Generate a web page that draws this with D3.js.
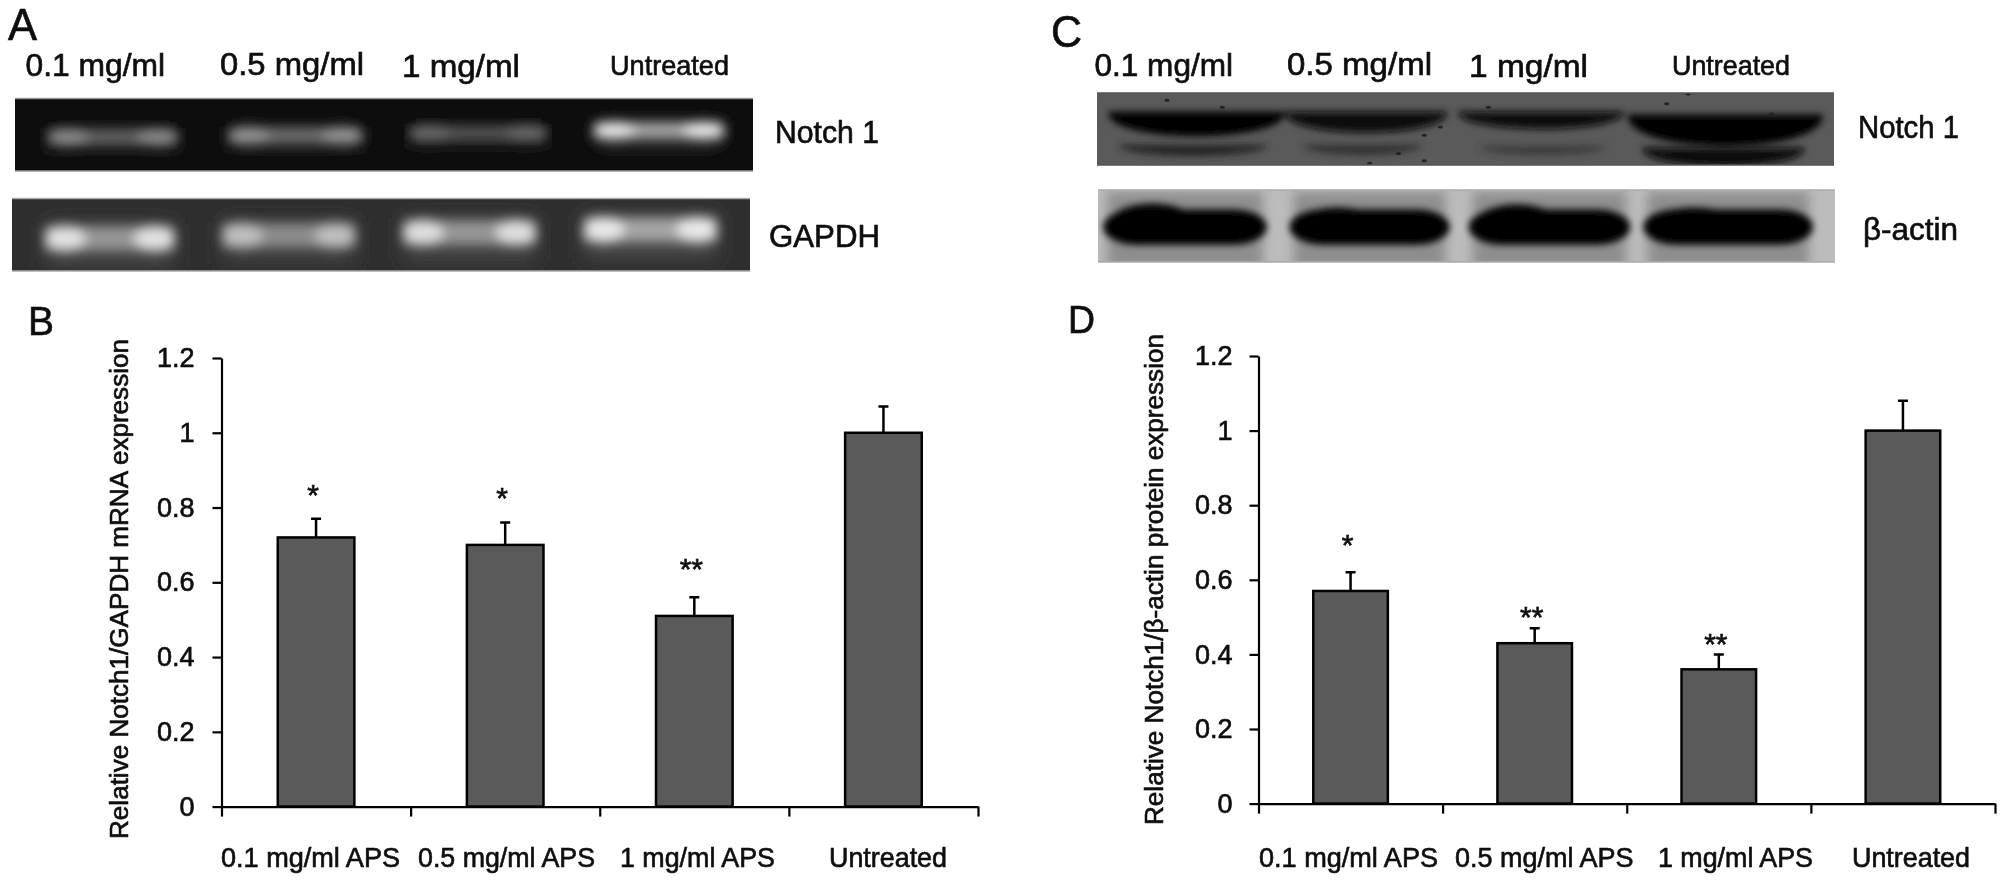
<!DOCTYPE html>
<html>
<head>
<meta charset="utf-8">
<script src="https://cdn.jsdelivr.net/npm/d3@7"></script>
<style>
html, body { margin: 0; padding: 0; background: #fff; overflow: hidden; }
text { font-family: "Liberation Sans", Arial, sans-serif; fill: #0c0c0c; stroke: #0c0c0c; stroke-width: 0.65; }
</style>
</head>
<body>
<div id="content-wrapper"></div>
<script>
/***********************************************************************/
//Data
/***********************************************************************/
const categories = ['0.1 mg/ml APS', '0.5 mg/ml APS', '1 mg/ml APS', 'Untreated']
const yTickValues = [0, 0.2, 0.4, 0.6, 0.8, 1, 1.2]

const mrnaValues = [0.72, 0.70, 0.51, 1.0]
const mrnaErrors = [0.05, 0.06, 0.05, 0.07]
const mrnaStars = ['*', '*', '**', '']
const mrnaStarLevels = [0.847, 0.84, 0.649, 0]

const proteinValues = [0.57, 0.43, 0.36, 1.0]
const proteinErrors = [0.05, 0.04, 0.04, 0.08]
const proteinStars = ['*', '**', '**', '']
const proteinStarLevels = [0.707, 0.514, 0.44, 0]

const notchARim = [140, 150, 105, 235]
const notchACore = [100, 112, 82, 170]
const gapdhRim = [225, 190, 222, 232]
const gapdhCore = [150, 140, 150, 165]

// band darkness on the blot, 0-255 grey
const notchCMain = [6, 8, 12, 2]
const notchCLower = [38, 48, 58, 8]
const actinMain = [0, 0, 0, 0]
const actinHump = [6, 2, 5, 2]

// dark specks on the Notch 1 blot, as fractions of the strip
const speckX = [0.095, 0.17, 0.466, 0.444, 0.409, 0.444, 0.37, 0.531, 0.802, 0.773, 0.915]
const speckY = [0.1, 0.197, 0.473, 0.587, 0.84, 0.94, 0.977, 0.197, 0.014, 0.151, 0.29]

/***********************************************************************/
//Plot Area
/***********************************************************************/
const width = 2008
const height = 885

const svg = d3.select('#content-wrapper')
	.append('svg')
	.attr('width', width)
	.attr('height', height)

const defs = svg.append('defs')

const addBlur = (id, sd) => defs.append('filter')
	.attr('id', id)
	.attr('x', '-30%').attr('y', '-60%')
	.attr('width', '160%').attr('height', '220%')
	.append('feGaussianBlur')
	.attr('stdDeviation', sd)

addBlur('blur-soft', 0.55)
addBlur('blur-band', 6)
addBlur('blur-halo', 9)
addBlur('blur-blot', 3.5)

const root = svg.append('g').attr('filter', 'url(#blur-soft)')

const grey = v => d3.rgb(v, v, v).formatHex()

// text forced to the width measured on the reference
const label = (text, x0, x1, y, size, weight) => root.append('text')
	.attr('x', x0)
	.attr('y', y)
	.attr('font-size', size)
	.attr('font-weight', weight || 'normal')
	.attr('textLength', x1 - x0)
	.attr('lengthAdjust', 'spacingAndGlyphs')
	.text(text)

/***********************************************************************/
//Bar panels
/***********************************************************************/
function barPanel({ values, errors, stars, starLevels, x0, x1, yBottom, yTop, tickPad, title, titleSize, titleX, titleY0, titleY1, catStarts, catEnds }) {

	const g = root.append('g')

	const tickScale = d3.scaleLinear()
		.domain([0, categories.length])
		.range([x0, x1])

	const xScale = d3.scaleBand()
		.domain(categories)
		.range([x0, x1])
		.paddingInner(0.595)
		.paddingOuter(0.2975)

	const yScale = d3.scaleLinear()
		.domain([0, 1.2])
		.range([yBottom, yTop])

	g.selectAll('.bar')
		.data(categories)
		.join('rect')
		.attr('class', 'bar')
		.attr('x', d => xScale(d))
		.attr('y', (d, i) => yScale(values[i]))
		.attr('width', xScale.bandwidth())
		.attr('height', (d, i) => yBottom - yScale(values[i]))
		.attr('fill', '#5a5a5a')
		.attr('stroke', '#000')
		.attr('stroke-width', 2.5)

	// only the upper half of each error bar shows
	g.selectAll('.err')
		.data(categories)
		.join('path')
		.attr('class', 'err')
		.attr('d', (d, i) => {
			const cx = xScale(d) + xScale.bandwidth() / 2
			const top = yScale(values[i] + errors[i])
			return `M${cx},${yScale(values[i])}V${top}M${cx - 5},${top}H${cx + 5}`
		})
		.attr('fill', 'none')
		.attr('stroke', '#000')
		.attr('stroke-width', 2.5)

	g.selectAll('.star')
		.data(categories)
		.join('text')
		.attr('class', 'star')
		.attr('x', d => xScale(d) + xScale.bandwidth() / 2 - 3)
		.attr('y', (d, i) => yScale(starLevels[i]) + 15)
		.attr('text-anchor', 'middle')
		.attr('font-size', 30)
		.text((d, i) => stars[i])

	const xAxis = d3.axisBottom(tickScale)
		.tickValues(d3.range(categories.length + 1))
		.tickFormat('')
		.tickSize(10)
		.tickSizeOuter(0)

	const yAxis = d3.axisLeft(yScale)
		.tickValues(yTickValues)
		.tickFormat(d3.format('~g'))
		.tickSize(9)
		.tickSizeOuter(0)
		.tickPadding(tickPad)

	const axisStyle = sel => {
		sel.selectAll('path, line').attr('stroke', '#000').attr('stroke-width', 2.2)
		sel.selectAll('text').attr('font-size', 27).attr('fill', '#0c0c0c')
		sel.attr('font-family', null)
	}

	g.append('g')
		.attr('transform', `translate(0,${yBottom})`)
		.call(xAxis)
		.call(axisStyle)

	g.append('g')
		.attr('transform', `translate(${x0},0)`)
		.call(yAxis)
		.call(axisStyle)

	categories.forEach((c, i) => label(c, catStarts[i], catEnds[i], 867, 28))

	root.append('text')
		.attr('transform', `translate(${titleX},${titleY0}) rotate(-90)`)
		.attr('font-size', titleSize)
		.attr('textLength', titleY0 - titleY1)
		.attr('lengthAdjust', 'spacingAndGlyphs')
		.text(title)
}

barPanel({
	values: mrnaValues, errors: mrnaErrors, stars: mrnaStars, starLevels: mrnaStarLevels,
	x0: 221.5, x1: 978, yBottom: 806.6, yTop: 358, tickPad: 18,
	title: 'Relative Notch1/GAPDH mRNA expression', titleSize: 25, titleX: 128, titleY0: 839, titleY1: 339,
	catStarts: [221, 418, 620, 829], catEnds: [400, 595, 775, 947]
})

barPanel({
	values: proteinValues, errors: proteinErrors, stars: proteinStars, starLevels: proteinStarLevels,
	x0: 1258.5, x1: 1995, yBottom: 803.6, yTop: 356, tickPad: 17,
	title: 'Relative Notch1/\u03b2-actin protein expression', titleSize: 25, titleX: 1163, titleY0: 825, titleY1: 334,
	catStarts: [1259, 1455, 1658, 1852], catEnds: [1438, 1633.5, 1813, 1970]
})

/***********************************************************************/
//Gels
/***********************************************************************/
const gelLanes = ['0.1 mg/ml', '0.5 mg/ml', '1 mg/ml', 'Untreated']
let clipId = 0

function gelFrame(x0, x1, y0, y1, bg, edge) {
	const id = 'gel-clip-' + clipId++
	defs.append('clipPath').attr('id', id)
		.append('rect')
		.attr('x', x0).attr('y', y0)
		.attr('width', x1 - x0).attr('height', y1 - y0)

	const g = root.append('g').attr('clip-path', `url(#${id})`)

	g.append('rect')
		.attr('x', x0).attr('y', y0)
		.attr('width', x1 - x0).attr('height', y1 - y0)
		.attr('fill', bg)

	root.append('path')
		.attr('d', `M${x0},${y0}H${x1}M${x0},${y1}H${x1}`)
		.attr('stroke', edge)
		.attr('stroke-width', 1.5)

	return {
		g,
		x: d3.scaleLinear().domain([0, 1]).range([x0, x1]),
		y: d3.scaleLinear().domain([0, 1]).range([y0, y1])
	}
}

// stained gel: a faint halo, a soft bar and two brighter ends
function glowBands({ g, x, y }, starts, ends, mids, thick, core, rim, haloShare) {
	const halos = g.append('g').attr('filter', 'url(#blur-halo)')
	const bands = g.append('g').attr('filter', 'url(#blur-band)')
	gelLanes.forEach((lane, i) => {
		const bx0 = x(starts[i])
		const bx1 = x(ends[i])
		const cy = y(mids[i])
		halos.append('rect')
			.attr('x', bx0).attr('y', cy - thick * 0.6)
			.attr('width', bx1 - bx0).attr('height', thick * 1.8)
			.attr('fill', grey(core[i] * haloShare))
		bands.append('rect')
			.attr('x', bx0).attr('y', cy - thick / 2)
			.attr('width', bx1 - bx0).attr('height', thick)
			.attr('fill', grey(core[i]))
		;[bx0 + 20, bx1 - 20].forEach(cx => {
			bands.append('ellipse')
				.attr('cx', cx).attr('cy', cy)
				.attr('rx', 20).attr('ry', thick / 2 + 1)
				.attr('fill', grey(rim[i]))
		})
	})
}

// blot: dark lens shaped bands, flat on top and bowed below
function lensBands({ g, x, y }, starts, ends, tops, bottoms, shade, filter) {
	const bands = g.append('g').attr('filter', `url(#${filter})`)
	gelLanes.forEach((lane, i) => {
		const bx0 = x(starts[i])
		const bx1 = x(ends[i])
		const t = y(tops[i])
		const bow = (y(bottoms[i]) - t) * 1.33
		bands.append('path')
			.attr('d', `M${bx0},${t}H${bx1}C${bx1 + 2},${t + bow} ${bx0 - 2},${t + bow} ${bx0},${t}Z`)
			.attr('fill', grey(shade[i]))
	})
}

// gel A, Notch 1
glowBands(
	gelFrame(15, 753, 98.5, 171, '#0a0a0a', '#999'),
	[0.045, 0.29, 0.535, 0.785], [0.22, 0.47, 0.72, 0.96], [0.53, 0.51, 0.48, 0.44],
	15, notchACore, notchARim, 0.3
)

// gel A, GAPDH
glowBands(
	gelFrame(12, 750, 198.5, 271, '#2e2e2e', '#aaa'),
	[0.045, 0.285, 0.53, 0.775], [0.22, 0.465, 0.71, 0.955], [0.55, 0.51, 0.47, 0.43],
	24, gapdhCore, gapdhRim, 0.45
)

// gel C, Notch 1
const blotNotch = gelFrame(1097, 1834, 93, 165, '#5a5a5a', '#555')
lensBands(blotNotch, [0.015, 0.255, 0.49, 0.72], [0.255, 0.475, 0.715, 0.985], [0.26, 0.26, 0.26, 0.3], [0.6, 0.55, 0.5, 0.74], notchCMain, 'blur-blot')
lensBands(blotNotch, [0.03, 0.28, 0.52, 0.74], [0.23, 0.44, 0.69, 0.96], [0.72, 0.72, 0.74, 0.76], [0.88, 0.86, 0.86, 1.02], notchCLower, 'blur-blot')

blotNotch.g.selectAll('.speck')
	.data(speckX)
	.join('ellipse')
	.attr('class', 'speck')
	.attr('cx', d => blotNotch.x(d))
	.attr('cy', (d, i) => blotNotch.y(speckY[i]))
	.attr('rx', 2.6)
	.attr('ry', 1.5)
	.attr('fill', '#222')

// gel C, beta-actin
const blotActin = gelFrame(1098, 1835, 190, 262, '#bcbcbc', '#aaa')
const actinSmears = blotActin.g.append('g').attr('filter', 'url(#blur-band)')
const actinBands = blotActin.g.append('g').attr('filter', 'url(#blur-blot)')
const actinStarts = [0.007, 0.26, 0.503, 0.74]
const actinEnds = [0.229, 0.477, 0.722, 0.97]
gelLanes.forEach((lane, i) => {
	const bx0 = blotActin.x(actinStarts[i])
	const bx1 = blotActin.x(actinEnds[i])
	const top = blotActin.y(0.27)
	const bottom = blotActin.y(0.76)
	// lighter smear above and below the band
	actinSmears.append('rect')
		.attr('x', bx0 + 4).attr('y', blotActin.y(0.02))
		.attr('width', bx1 - bx0 - 8).attr('height', blotActin.y(1.1) - blotActin.y(0.02))
		.attr('fill', '#8e8e8e')
	actinBands.append('rect')
		.attr('x', bx0).attr('y', top)
		.attr('width', bx1 - bx0).attr('height', bottom - top)
		.attr('rx', 34)
		.attr('ry', 20)
		.attr('fill', grey(actinMain[i]))
	actinBands.append('ellipse')
		.attr('cx', bx0 + (bx1 - bx0) * 0.3)
		.attr('cy', top + 14)
		.attr('rx', (bx1 - bx0) * 0.26)
		.attr('ry', 14 + actinHump[i])
		.attr('fill', grey(actinMain[i]))
})

/***********************************************************************/
//Labels
/***********************************************************************/
const laneSizes = [31, 31, 31, 28]

const laneLabels = (starts, ends, baselines) => gelLanes.forEach((lane, i) => {
	label(lane, starts[i], ends[i], baselines[i], laneSizes[i])
})

laneLabels([25.5, 220, 402, 610], [165, 364, 520, 729], [76, 75, 77, 75])
laneLabels([1094.5, 1287, 1469, 1672], [1233, 1432, 1588, 1790], [76, 75, 77, 75])

label('Notch 1', 775, 879, 142.5, 32)
label('GAPDH', 769, 880, 247, 32)
label('Notch 1', 1858, 1959, 138, 32)
label('\u03b2-actin', 1863, 1958, 240, 32)

label('A', 8, 37, 40, 44)
label('B', 28, 54, 335, 41)
label('C', 1051, 1082, 47, 44)
label('D', 1068, 1095, 333, 38)
</script>
</body>
</html>
